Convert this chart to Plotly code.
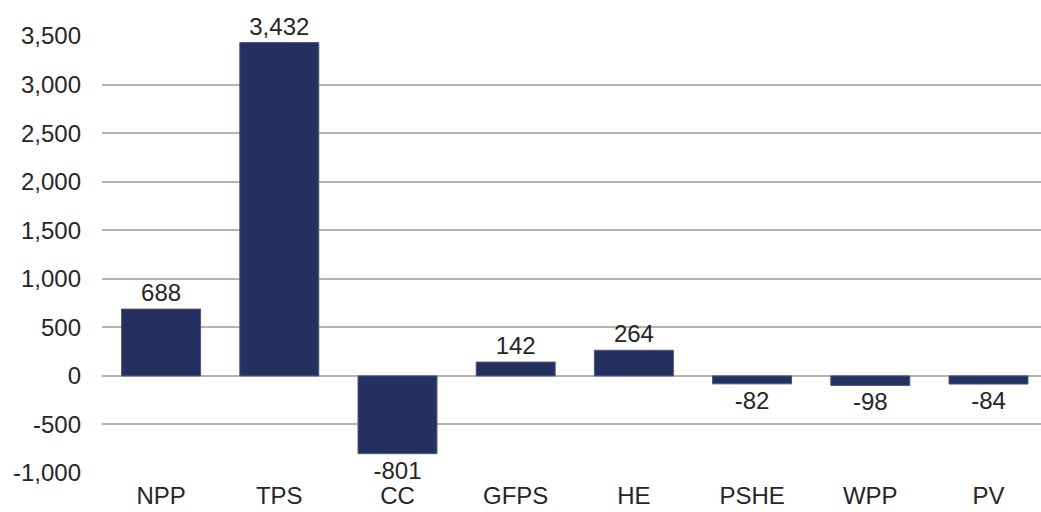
import plotly.graph_objects as go

categories = ["NPP", "TPS", "CC", "GFPS", "HE", "PSHE", "WPP", "PV"]
values = [688, 3432, -801, 142, 264, -82, -98, -84]
y_ticks = [-1000, -500, 0, 500, 1000, 1500, 2000, 2500, 3000, 3500]
y_tick_labels = ["-1,000", "-500", "0", "500", "1,000", "1,500", "2,000", "2,500", "3,000", "3,500"]

FONT = "Liberation Sans, Arial"
SIZE = 24
COLOR = "#262626"

fig = go.Figure(go.Bar(
    x=categories,
    y=values,
    text=[f"{v:,}" for v in values],
    textposition="outside",
    textfont=dict(size=SIZE, color=COLOR, family=FONT),
    cliponaxis=False,
    marker=dict(color="#243060", line=dict(color="#4a5580", width=1)),
))

fig.update_layout(
    width=1060, height=512,
    margin=dict(l=102, r=0, t=36, b=39),
    plot_bgcolor="white", paper_bgcolor="white",
    font=dict(family=FONT, size=SIZE, color=COLOR),
    bargap=0.332,
    showlegend=False,
)
fig.update_xaxes(
    range=[-0.5, 7.605],
    showgrid=False, showline=False, zeroline=False,
    ticks="", ticklabelstandoff=6,
    tickfont=dict(size=SIZE, color=COLOR, family=FONT),
)
fig.update_yaxes(
    range=[-1000, 3500],
    tickvals=y_ticks, ticktext=y_tick_labels,
    showgrid=True, gridcolor="#b3b3b3", gridwidth=1.5,
    zeroline=True, zerolinecolor="#b3b3b3", zerolinewidth=1.5,
    showline=False, ticks="", ticklabelstandoff=20,
    tickfont=dict(size=SIZE, color=COLOR, family=FONT),
)

fig.write_html(
    "out.html",
    config={"displayModeBar": False},
    post_script="document.body.style.margin='0';document.body.style.overflow='hidden';",
)
